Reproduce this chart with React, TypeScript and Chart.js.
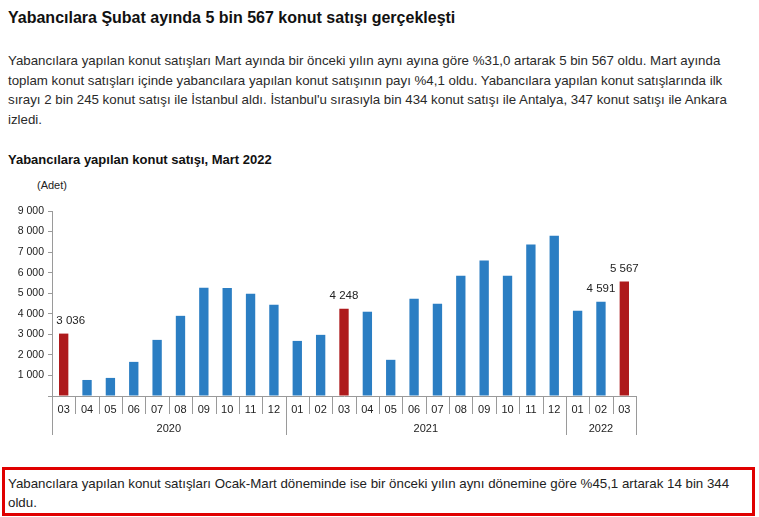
import React, { useEffect, useRef } from "react";
import { Chart, registerables } from "chart.js";

Chart.register(...registerables);

const months = ["03", "04", "05", "06", "07", "08", "09", "10", "11", "12", "01", "02", "03", "04", "05", "06", "07", "08", "09", "10", "11", "12", "01", "02", "03"];
const years = ["2020", "2021", "2022"];
const yearSpans = [10, 12, 3];
const values = [3036, 780, 880, 1660, 2730, 3900, 5270, 5260, 4975, 4440, 2680, 2975, 4248, 4100, 1760, 4730, 4490, 5850, 6590, 5850, 7370, 7800, 4150, 4591, 5567];
const highlighted = [0, 12, 24];
const labeled = [0, 12, 23, 24];
const yMax = 9000;
const yStep = 1000;

const BLUE = "#2b7ec3";
const RED = "#ae1a1c";
const FONT = "'Liberation Sans', Arial, sans-serif";

const fmt = (v: number) => String(v).replace(/\B(?=(\d{3})+(?!\d))/g, " ");

const extrasPlugin = {
  id: "extras",
  afterDraw(chart: any) {
    const ctx = chart.ctx;
    const xs = chart.scales.x;
    const ys = chart.scales.y;
    const n = months.length;
    const step = xs.getPixelForValue(1) - xs.getPixelForValue(0);
    const bottom = chart.chartArea.bottom;
    const yearBounds: number[] = [0];
    let acc = 0;
    yearSpans.forEach((s) => { acc += s; yearBounds.push(acc); });
    ctx.save();
    ctx.strokeStyle = "#9a9a9a";
    ctx.lineWidth = 1;
    for (let i = 0; i <= n; i++) {
      const x = Math.round(xs.getPixelForValue(i) - step / 2) + 0.5;
      const long = yearBounds.includes(i);
      ctx.beginPath();
      ctx.moveTo(x, bottom);
      ctx.lineTo(x, bottom + (long ? 39 : 18));
      ctx.stroke();
    }
    ctx.fillStyle = "#222";
    ctx.font = "11px " + FONT;
    ctx.textAlign = "center";
    ctx.textBaseline = "middle";
    for (let k = 0; k < years.length; k++) {
      const x0 = xs.getPixelForValue(yearBounds[k]) - step / 2;
      const x1 = xs.getPixelForValue(yearBounds[k + 1]) - step / 2;
      ctx.fillText(years[k], (x0 + x1) / 2, bottom + 33);
    }
    ctx.font = "11.5px " + FONT;
    ctx.textBaseline = "alphabetic";
    labeled.forEach((i) => {
      const x = xs.getPixelForValue(i) + (i === 0 ? 7 : 0);
      const y = ys.getPixelForValue(values[i]);
      ctx.fillText(fmt(values[i]), x, y - 10);
    });
    ctx.restore();
  },
};

function BarChart() {
  const ref = useRef<HTMLCanvasElement>(null);
  useEffect(() => {
    if (!ref.current) return;
    Chart.defaults.font.family = FONT;
    const chart = new Chart(ref.current, {
      type: "bar",
      data: {
        labels: months,
        datasets: [
          {
            data: values,
            backgroundColor: values.map((_, i) => (highlighted.includes(i) ? RED : BLUE)),
            categoryPercentage: 1,
            barPercentage: 0.4,
          },
        ],
      },
      options: {
        animation: false,
        responsive: false,
        maintainAspectRatio: false,
        layout: { padding: { left: 0, right: 4, top: 41, bottom: 4 } },
        plugins: { legend: { display: false }, tooltip: { enabled: false } },
        scales: {
          x: {
            grid: { drawOnChartArea: false, drawTicks: false },
            border: { display: true, color: "#9a9a9a" },
            ticks: { color: "#222", font: { size: 11 }, padding: 7, maxRotation: 0, autoSkip: false },
            afterFit: (s: any) => { s.height = 45; },
          },
          y: {
            min: 0,
            max: yMax,
            grid: { drawOnChartArea: false, drawTicks: true, tickLength: 4, color: "#9a9a9a" },
            border: { display: true, color: "#9a9a9a" },
            ticks: {
              stepSize: yStep,
              color: "#222",
              font: { size: 10.5 },
              padding: 4,
              callback: (v: any) => (Number(v) === 0 ? "" : fmt(Number(v))),
            },
            afterFit: (s: any) => { s.width = 52; },
          },
        },
      },
      plugins: [extrasPlugin],
    });
    return () => chart.destroy();
  }, []);
  return <canvas ref={ref} width={640} height={275} style={{ position: "absolute", left: 0, top: 170, width: 640, height: 275 }} />;
}

export default function App() {
  return (
    <div style={{ position: "absolute", left: 0, top: 0, width: 759, height: 517, background: "#fff", fontFamily: FONT, overflow: "hidden" }}>
      <div style={{ position: "absolute", left: 8, top: 8, fontSize: 16, fontWeight: "bold", color: "#111", lineHeight: "19px", whiteSpace: "nowrap" }}>
        Yabancılara Şubat ayında 5 bin 567 konut satışı gerçekleşti
      </div>
      <div style={{ position: "absolute", left: 8, top: 51, width: 748, fontSize: 13.3, color: "#2a2a2a", lineHeight: "19.5px" }}>
        Yabancılara yapılan konut satışları Mart ayında bir önceki yılın aynı ayına göre %31,0 artarak 5 bin 567 oldu. Mart ayında toplam konut satışları içinde yabancılara yapılan konut satışının payı %4,1 oldu. Yabancılara yapılan konut satışlarında ilk sırayı 2 bin 245 konut satışı ile İstanbul aldı. İstanbul'u sırasıyla bin 434 konut satışı ile Antalya, 347 konut satışı ile Ankara izledi.
      </div>
      <div style={{ position: "absolute", left: 8, top: 152, fontSize: 13, fontWeight: "bold", color: "#111", lineHeight: "16px", whiteSpace: "nowrap" }}>
        Yabancılara yapılan konut satışı, Mart 2022
      </div>
      <div style={{ position: "absolute", left: 37, top: 179, fontSize: 11, color: "#222", lineHeight: "13px" }}>(Adet)</div>
      <BarChart />
      <div style={{ position: "absolute", left: 2, top: 467, width: 744, height: 39, border: "3px solid #e00000", fontSize: 13.3, color: "#222", lineHeight: "19px", padding: "4px 0 0 3px", boxSizing: "content-box" }}>
        Yabancılara yapılan konut satışları Ocak-Mart döneminde ise bir önceki yılın aynı dönemine göre %45,1 artarak 14 bin 344 oldu.
      </div>
    </div>
  );
}
